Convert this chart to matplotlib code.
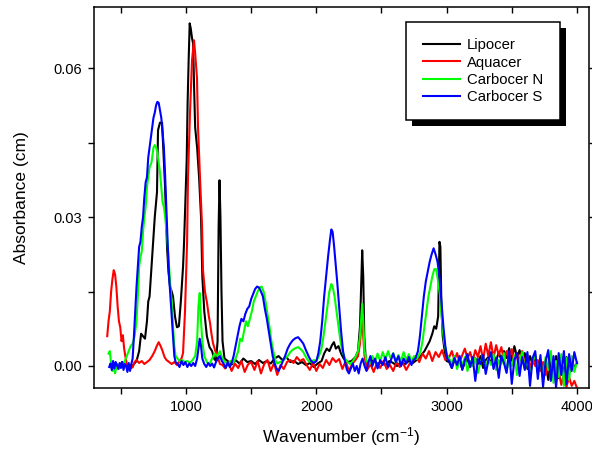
import matplotlib
matplotlib.use("Agg")
import matplotlib.pyplot as plt
from matplotlib.ticker import MultipleLocator, FormatStrFormatter
from matplotlib.patches import Rectangle

plt.rcParams['font.family'] = ['Liberation Sans', 'DejaVu Sans']
plt.rcParams['mathtext.default'] = 'regular'

# Lipocer
lipocer_wn = [450, 480, 510, 540, 570, 600, 620, 640, 655, 670, 685, 700, 710, 720, 735,
              747, 760, 777, 785, 800, 816, 828, 839, 854, 865, 877, 890, 900, 915, 930,
              945, 960, 977, 985, 995, 1005, 1012, 1020, 1028, 1036, 1046, 1054, 1062, 1070, 1085,
              1100, 1115, 1125, 1140, 1160, 1180, 1200, 1215, 1230, 1242, 1250, 1257, 1264, 1272, 1280,
              1295, 1320, 1350, 1380, 1410, 1440, 1470, 1500, 1530, 1560, 1590, 1620, 1650, 1680, 1710,
              1740, 1770, 1800, 1830, 1860, 1890, 1920, 1950, 1980, 2010, 2040, 2060, 2080, 2100, 2120,
              2135, 2150, 2170, 2190, 2210, 2240, 2270, 2300, 2320, 2335, 2345, 2352, 2360, 2368, 2380,
              2410, 2440, 2470, 2500, 2530, 2560, 2590, 2620, 2650, 2680, 2710, 2740, 2770, 2800, 2830,
              2850, 2870, 2890, 2905, 2920, 2935, 2945, 2952, 2960, 2970, 2985, 3000]
lipocer_abs = [0.0005, -0.0003, 0.0008, 0.0000, -0.0006, 0.0004, 0.0010, 0.0030, 0.0065, 0.0060, 0.0055, 0.0090, 0.0130, 0.0140, 0.0200,
               0.0250, 0.0300, 0.0350, 0.0475, 0.0490, 0.0490, 0.0420, 0.0360, 0.0240, 0.0190, 0.0160, 0.0150, 0.0140, 0.0100, 0.0078,
               0.0080, 0.0130, 0.0200, 0.0250, 0.0330, 0.0415, 0.0530, 0.0616, 0.0690, 0.0680, 0.0660, 0.0650, 0.0560, 0.0480, 0.0440,
               0.0380, 0.0300, 0.0180, 0.0110, 0.0060, 0.0038, 0.0030, 0.0015, 0.0010, 0.0050, 0.0280, 0.0374, 0.0300, 0.0150, 0.0050,
               0.0015, 0.0010, 0.0003, 0.0012, 0.0005, 0.0015, 0.0008, 0.0010, 0.0004, 0.0012, 0.0006, 0.0010, 0.0005, 0.0015, 0.0020,
               0.0012, 0.0018, 0.0008, 0.0010, 0.0004, 0.0008, 0.0002, 0.0006, -0.0002, 0.0005, 0.0010, 0.0025, 0.0035, 0.0030, 0.0042,
               0.0048, 0.0035, 0.0040, 0.0025, 0.0015, 0.0008, 0.0010, 0.0018, 0.0030, 0.0080, 0.0170, 0.0233, 0.0180, 0.0060, 0.0010,
               0.0006, 0.0012, 0.0004, 0.0008, 0.0002, 0.0010, 0.0006, 0.0000, 0.0008, 0.0004, 0.0010, 0.0006, 0.0012, 0.0020, 0.0030,
               0.0040, 0.0050, 0.0065, 0.0080, 0.0075, 0.0100, 0.0250, 0.0240, 0.0120, 0.0060, 0.0030, 0.0010]

# Aquacer
aquacer_wn = [395, 405, 415, 425, 435, 445, 455, 465, 475, 485, 495, 505, 515, 525, 535,
              545, 560, 575, 590, 605, 620, 640, 660, 680, 700, 720, 740, 760, 775, 790,
              805, 820, 835, 850, 870, 890, 910, 930, 950, 965, 977, 992, 1000, 1008, 1015,
              1023, 1031, 1046, 1055, 1061, 1070, 1084, 1092, 1107, 1123, 1130, 1145, 1161, 1175, 1184,
              1195, 1207, 1225, 1245, 1260, 1280, 1300, 1325, 1350, 1375, 1400, 1425, 1450, 1475, 1500,
              1525, 1550, 1575, 1600, 1625, 1650, 1675, 1700, 1725, 1750, 1775, 1800, 1825, 1850, 1875,
              1900, 1925, 1950, 1975, 2000, 2025, 2050, 2075, 2100, 2125, 2150, 2175, 2200, 2225, 2250,
              2275, 2300, 2320, 2335, 2345, 2352, 2360, 2370, 2390, 2415, 2440, 2465, 2490, 2515, 2540,
              2565, 2590, 2615, 2640, 2665, 2690, 2715, 2740, 2765, 2790, 2815, 2840, 2865, 2890, 2915,
              2940, 2965, 2990, 3005]
aquacer_abs = [0.0060, 0.0090, 0.0110, 0.0150, 0.0175, 0.0193, 0.0185, 0.0160, 0.0120, 0.0090, 0.0078, 0.0050, 0.0062, 0.0035, 0.0018,
               0.0005, -0.0005, 0.0002, -0.0003, 0.0008, 0.0012, 0.0006, 0.0010, 0.0004, 0.0008, 0.0012, 0.0020, 0.0030, 0.0040, 0.0048,
               0.0040, 0.0030, 0.0018, 0.0012, 0.0008, 0.0004, 0.0008, 0.0002, 0.0010, 0.0015, 0.0026, 0.0110, 0.0180, 0.0250, 0.0380,
               0.0450, 0.0515, 0.0616, 0.0640, 0.0656, 0.0630, 0.0580, 0.0480, 0.0380, 0.0280, 0.0193, 0.0150, 0.0127, 0.0100, 0.0087,
               0.0065, 0.0046, 0.0030, 0.0018, 0.0004, 0.0002, -0.0005, 0.0008, -0.0010, 0.0005, -0.0004, 0.0010, -0.0012, 0.0003, 0.0008,
               -0.0008, 0.0010, -0.0015, 0.0004, 0.0012, -0.0010, 0.0006, -0.0018, 0.0002, -0.0006, 0.0008, 0.0012, 0.0006, 0.0018, 0.0010,
               0.0014, 0.0002, -0.0008, 0.0006, -0.0010, 0.0004, -0.0004, 0.0012, 0.0002, 0.0016, 0.0008, 0.0014, -0.0006, 0.0010, -0.0010,
               0.0004, 0.0012, 0.0020, 0.0045, 0.0080, 0.0100, 0.0060, 0.0020, -0.0008, 0.0004, -0.0012, 0.0006, -0.0004, 0.0010, -0.0006,
               0.0002, -0.0010, 0.0008, -0.0002, 0.0006, -0.0008, 0.0004, 0.0012, 0.0020, 0.0008, 0.0025, 0.0015, 0.0030, 0.0010, 0.0028,
               0.0018, 0.0032, 0.0012, 0.0020]

# Carbocer N
carbocer_n_wn = [405, 415, 425, 435, 445, 455, 470, 485, 500, 515, 530, 545, 560, 575, 590,
                 605, 620, 630, 640, 650, 660, 670, 680, 690, 700, 710, 720, 735, 750, 760,
                 770, 780, 790, 800, 810, 820, 830, 840, 850, 860, 870, 880, 890, 900, 910,
                 920, 935, 950, 970, 990, 1010, 1030, 1050, 1070, 1085, 1095, 1105, 1115, 1125, 1140,
                 1160, 1180, 1200, 1220, 1240, 1260, 1280, 1300, 1320, 1340, 1360, 1380, 1400, 1415, 1430,
                 1445, 1460, 1475, 1490, 1505, 1520, 1535, 1550, 1565, 1580, 1595, 1610, 1625, 1640, 1655,
                 1670, 1685, 1700, 1720, 1740, 1760, 1780, 1800, 1820, 1840, 1860, 1880, 1900, 1920, 1940,
                 1960, 1980, 2000, 2020, 2040, 2055, 2070, 2085, 2100, 2115, 2125, 2140, 2155, 2170, 2185,
                 2200, 2220, 2240, 2260, 2280, 2300, 2320, 2335, 2345, 2352, 2360, 2370, 2385, 2410, 2430,
                 2450, 2470, 2490, 2510, 2530, 2550, 2570, 2590, 2610, 2630, 2650, 2670, 2690, 2710, 2730,
                 2750, 2770, 2785, 2800, 2815, 2830, 2845, 2860, 2875, 2890, 2905, 2920, 2935, 2950, 2965,
                 2980, 2995, 3005]
carbocer_n_abs = [0.0025, 0.0030, 0.0005, -0.0010, 0.0000, -0.0015, 0.0004, -0.0006, 0.0003, 0.0000, 0.0010, 0.0020, 0.0030, 0.0040, 0.0045,
                  0.0060, 0.0090, 0.0140, 0.0200, 0.0220, 0.0230, 0.0270, 0.0300, 0.0320, 0.0360, 0.0380, 0.0400, 0.0410, 0.0440, 0.0445,
                  0.0440, 0.0430, 0.0410, 0.0390, 0.0360, 0.0330, 0.0320, 0.0300, 0.0270, 0.0240, 0.0200, 0.0160, 0.0130, 0.0080, 0.0040,
                  0.0020, 0.0015, 0.0010, 0.0012, 0.0008, 0.0010, 0.0006, 0.0012, 0.0020, 0.0050, 0.0120, 0.0147, 0.0090, 0.0050, 0.0020,
                  0.0008, 0.0004, 0.0015, 0.0025, 0.0020, 0.0030, 0.0015, 0.0008, 0.0004, 0.0010, 0.0006, 0.0015, 0.0030, 0.0055, 0.0050,
                  0.0070, 0.0090, 0.0080, 0.0095, 0.0110, 0.0130, 0.0140, 0.0150, 0.0158, 0.0160, 0.0150, 0.0130, 0.0105, 0.0080, 0.0050,
                  0.0030, 0.0012, 0.0005, 0.0008, 0.0010, 0.0015, 0.0020, 0.0028, 0.0033, 0.0036, 0.0038, 0.0034, 0.0028, 0.0018, 0.0010,
                  0.0008, 0.0012, 0.0010, 0.0020, 0.0035, 0.0060, 0.0090, 0.0120, 0.0150, 0.0165, 0.0160, 0.0140, 0.0110, 0.0080, 0.0050,
                  0.0030, 0.0015, 0.0008, 0.0004, 0.0010, 0.0018, 0.0030, 0.0060, 0.0100, 0.0125, 0.0090, 0.0030, 0.0010, 0.0005, 0.0020,
                  0.0008, 0.0025, 0.0010, 0.0028, 0.0012, 0.0030, 0.0015, 0.0026, 0.0008, 0.0022, 0.0010, 0.0028, 0.0012, 0.0024, 0.0008,
                  0.0020, 0.0014, 0.0020, 0.0030, 0.0050, 0.0080, 0.0110, 0.0140, 0.0160, 0.0180, 0.0195, 0.0195, 0.0170, 0.0140, 0.0090,
                  0.0050, 0.0030, 0.0020]

# Carbocer S
carbocer_s_wn = [410, 420, 430, 440, 450, 460, 470, 480, 490, 500, 510, 520, 530, 540, 550,
                 560, 570, 580, 590, 600, 610, 620, 630, 640, 650, 660, 670, 680, 690, 700,
                 710, 720, 730, 740, 750, 760, 770, 780, 790, 800, 810, 820, 830, 840, 850,
                 860, 870, 880, 890, 900, 910, 920, 935, 950, 965, 980, 995, 1010, 1025, 1040,
                 1055, 1070, 1085, 1095, 1105, 1115, 1125, 1140, 1155, 1170, 1185, 1200, 1215, 1230, 1245,
                 1260, 1275, 1290, 1305, 1320, 1335, 1350, 1365, 1380, 1395, 1410, 1425, 1440, 1455, 1470,
                 1485, 1500, 1515, 1530, 1545, 1560, 1575, 1590, 1605, 1620, 1635, 1650, 1665, 1680, 1695,
                 1710, 1725, 1740, 1760, 1780, 1800, 1820, 1840, 1860, 1880, 1900, 1920, 1940, 1960, 1980,
                 2000, 2015, 2030, 2045, 2060, 2075, 2090, 2105, 2115, 2125, 2135, 2145, 2160, 2175, 2190,
                 2205, 2220, 2235, 2250, 2265, 2280, 2295, 2310, 2325, 2340, 2355, 2370, 2385, 2400, 2415,
                 2430, 2450, 2470, 2490, 2510, 2530, 2550, 2570, 2590, 2610, 2630, 2650, 2670, 2690, 2710,
                 2730, 2745, 2760, 2780, 2795, 2810, 2825, 2840, 2855, 2870, 2885, 2900, 2915, 2930, 2945,
                 2960, 2975, 2990, 3005]
carbocer_s_abs = [-0.0002, 0.0005, -0.0008, 0.0010, -0.0005, 0.0008, 0.0002, -0.0006, 0.0006, -0.0004, 0.0008, -0.0008, 0.0004, 0.0000, -0.0012,
                  0.0006, -0.0010, 0.0004, 0.0015, 0.0060, 0.0110, 0.0160, 0.0200, 0.0240, 0.0250, 0.0280, 0.0300, 0.0340, 0.0370, 0.0380,
                  0.0420, 0.0440, 0.0460, 0.0480, 0.0500, 0.0510, 0.0525, 0.0532, 0.0530, 0.0515, 0.0500, 0.0470, 0.0440, 0.0380, 0.0310,
                  0.0240, 0.0180, 0.0140, 0.0100, 0.0060, 0.0020, 0.0008, 0.0004, -0.0002, 0.0010, 0.0002, 0.0008, -0.0002, 0.0005, 0.0000,
                  0.0006, 0.0000, 0.0015, 0.0035, 0.0055, 0.0040, 0.0015, 0.0004, -0.0002, 0.0006, 0.0000, 0.0005, -0.0003, 0.0008, 0.0015,
                  0.0020, 0.0010, 0.0004, -0.0004, 0.0008, -0.0002, 0.0006, 0.0020, 0.0040, 0.0060, 0.0080, 0.0095, 0.0090, 0.0105, 0.0115,
                  0.0120, 0.0135, 0.0145, 0.0155, 0.0160, 0.0158, 0.0150, 0.0140, 0.0115, 0.0095, 0.0070, 0.0045, 0.0020, 0.0005, -0.0005,
                  -0.0010, -0.0002, 0.0008, 0.0020, 0.0035, 0.0045, 0.0052, 0.0056, 0.0058, 0.0052, 0.0045, 0.0032, 0.0020, 0.0010, 0.0006,
                  0.0010, 0.0025, 0.0050, 0.0090, 0.0140, 0.0180, 0.0220, 0.0255, 0.0275, 0.0270, 0.0245, 0.0215, 0.0170, 0.0120, 0.0070,
                  0.0030, 0.0008, -0.0008, -0.0015, -0.0005, 0.0005, -0.0010, 0.0000, -0.0015, 0.0005, 0.0015, 0.0000, -0.0010, 0.0008, 0.0020,
                  0.0000, 0.0015, -0.0005, 0.0012, 0.0002, 0.0018, -0.0002, 0.0010, 0.0025, 0.0008, 0.0020, 0.0000, 0.0015, 0.0005, 0.0018,
                  0.0002, 0.0012, 0.0015, 0.0030, 0.0060, 0.0100, 0.0140, 0.0170, 0.0190, 0.0210, 0.0225, 0.0237, 0.0225, 0.0210, 0.0180,
                  0.0130, 0.0080, 0.0040, 0.0015]

# noisy high-wavenumber end, shared sampling
tail_wn = [3020, 3040, 3060, 3080, 3100, 3120, 3140, 3160, 3180, 3200,
           3220, 3240, 3260, 3280, 3300, 3320, 3340, 3360, 3380, 3400,
           3420, 3440, 3460, 3480, 3500, 3520, 3540, 3560, 3580, 3600,
           3620, 3640, 3660, 3680, 3700, 3720, 3740, 3760, 3780, 3800,
           3820, 3840, 3860, 3880, 3900, 3920, 3940, 3960, 3980, 4000]
lipocer_tail = [0.0008, -0.0004, 0.0012, 0.0002, 0.0010, -0.0006, 0.0006, 0.0014, -0.0002, 0.0008,
                0.0016, 0.0004, 0.0020, -0.0004, 0.0012, 0.0018, 0.0006, 0.0022, 0.0010, 0.0028,
                0.0012, 0.0030, 0.0016, 0.0036, 0.0010, 0.0040, 0.0018, 0.0032, 0.0006, 0.0026,
                -0.0006, 0.0020, 0.0004, 0.0016, -0.0012, 0.0012, -0.0020, 0.0008, -0.0028, 0.0014,
                -0.0010, 0.0020, -0.0024, 0.0010, -0.0016, 0.0018, -0.0008, 0.0012, -0.0004, 0.0006]
aquacer_tail = [0.0018, 0.0030, 0.0012, 0.0026, 0.0008, 0.0022, 0.0035, 0.0015, 0.0028, 0.0010,
                0.0032, 0.0018, 0.0040, 0.0012, 0.0045, 0.0020, 0.0048, 0.0016, 0.0042, 0.0022,
                0.0038, 0.0010, 0.0030, 0.0014, 0.0034, 0.0006, 0.0026, 0.0010, 0.0030, 0.0002,
                0.0022, -0.0004, 0.0016, 0.0000, 0.0012, -0.0010, 0.0008, -0.0018, 0.0004, -0.0026,
                0.0000, -0.0032, -0.0010, -0.0038, -0.0016, -0.0042, -0.0022, -0.0040, -0.0030, -0.0044]
carbocer_n_tail = [0.0015, 0.0004, 0.0020, -0.0006, 0.0012, 0.0002, 0.0018, -0.0010, 0.0010, 0.0000,
                   0.0016, -0.0014, 0.0008, 0.0020, -0.0004, 0.0014, 0.0002, 0.0024, -0.0008, 0.0012,
                   0.0004, 0.0026, -0.0012, 0.0016, 0.0000, 0.0022, -0.0018, 0.0010, 0.0028, -0.0006,
                   0.0014, -0.0020, 0.0008, 0.0024, -0.0014, 0.0012, -0.0026, 0.0018, -0.0008, 0.0030,
                   -0.0034, 0.0010, -0.0022, 0.0024, -0.0040, 0.0016, -0.0028, 0.0020, -0.0012, 0.0008]
carbocer_s_tail = [0.0010, -0.0004, 0.0016, 0.0002, 0.0020, -0.0008, 0.0012, 0.0024, -0.0002, 0.0018,
                   -0.0030, 0.0014, 0.0004, 0.0022, -0.0016, 0.0010, 0.0028, -0.0006, 0.0016, -0.0024,
                   0.0020, 0.0006, -0.0014, 0.0030, -0.0036, 0.0012, 0.0026, -0.0020, 0.0018, -0.0008,
                   0.0028, -0.0040, 0.0016, 0.0030, -0.0026, 0.0022, -0.0042, 0.0010, 0.0032, -0.0030,
                   0.0020, -0.0044, 0.0026, -0.0018, 0.0030, -0.0036, 0.0024, -0.0010, 0.0028, 0.0006]

series = [
    ("Lipocer", lipocer_wn, lipocer_abs, lipocer_tail, "#000000"),
    ("Aquacer", aquacer_wn, aquacer_abs, aquacer_tail, "#ff0000"),
    ("Carbocer N", carbocer_n_wn, carbocer_n_abs, carbocer_n_tail, "#00ff00"),
    ("Carbocer S", carbocer_s_wn, carbocer_s_abs, carbocer_s_tail, "#0000ff"),
]

fig = plt.figure(figsize=(5.92, 4.53), dpi=100)
ax = fig.add_axes([0.158, 0.1435, 0.837, 0.840])

for name, wn, ab, tail, col in series:
    assert len(wn) == len(ab), name
    assert len(tail) == len(tail_wn), name
    ax.plot(wn + tail_wn, ab + tail, color=col, lw=1.5, label=name)

ax.set_xlim(290, 4093)
ax.set_ylim(-0.00443, 0.0722)
ax.xaxis.set_major_locator(MultipleLocator(1000))
ax.xaxis.set_minor_locator(MultipleLocator(500))
ax.yaxis.set_major_locator(MultipleLocator(0.03))
ax.yaxis.set_minor_locator(MultipleLocator(0.015))
ax.yaxis.set_major_formatter(FormatStrFormatter('%.2f'))

for sp in ax.spines.values():
    sp.set_linewidth(1.1)
ax.tick_params(which='both', direction='out', length=4.5, width=1.0, labelsize=10.5, pad=4)
ax.tick_params(which='both', top=True, right=True)
# top/right ticks point inwards
for t in ax.xaxis.get_major_ticks() + ax.xaxis.get_minor_ticks():
    t.tick2line.set_marker(3)
for t in ax.yaxis.get_major_ticks() + ax.yaxis.get_minor_ticks():
    t.tick2line.set_marker(1)

ax.set_xlabel("Wavenumber (cm$^{-1}$)", fontsize=12.5, labelpad=8)
ax.set_ylabel("Absorbance (cm)", fontsize=12.5, labelpad=17)

leg = ax.legend(loc='upper left', bbox_to_anchor=(0.631, 0.962), borderaxespad=0,
                fontsize=10.7, frameon=True, fancybox=False, framealpha=1,
                edgecolor='black', handlelength=2.5, handletextpad=0.5,
                labelspacing=0.22, borderpad=1.1)
leg.get_frame().set_linewidth(1.1)

# solid black drop shadow behind the legend box
fig.canvas.draw()
bb = leg.get_frame().get_window_extent()
inv = ax.transAxes.inverted()
(x0, y0), (x1, y1) = inv.transform([(bb.x0 + 6, bb.y0 - 6), (bb.x1 + 6, bb.y1 - 6)])
ax.add_patch(Rectangle((x0, y0), x1 - x0, y1 - y0, transform=ax.transAxes,
                       facecolor='black', edgecolor='none', zorder=4.5, clip_on=False))

fig.savefig("out.png", dpi=100)
